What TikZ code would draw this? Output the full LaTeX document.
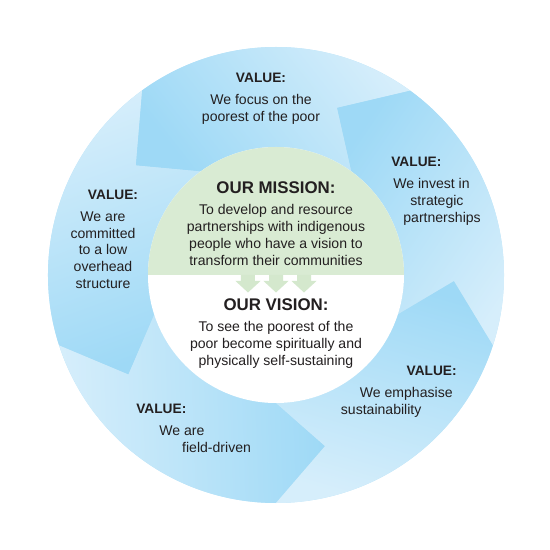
\documentclass[tikz,border=0pt]{standalone}
\usepackage{fontspec}
\setmainfont{Liberation Sans}
\usepackage{tikz}
\usetikzlibrary{calc, positioning}

\definecolor{RingDark}{RGB}{158,217,246}
\definecolor{RingLight}{RGB}{214,238,251}
\definecolor{RingMid}{RGB}{185,227,248}
\definecolor{MissionGreen}{RGB}{217,235,211}
\definecolor{ArrowGreen}{RGB}{212,232,205}
\definecolor{InkGrey}{RGB}{35,31,32}

\newcommand{\rOut}{4.56}
\newcommand{\rIn}{2.56}
\newcommand{\rMid}{3.56}

\begin{document}
\begin{tikzpicture}[font=\fontsize{8}{9.6}\selectfont, text=InkGrey,
	valhead/.style={font=\fontsize{7.8}{9}\selectfont\bfseries, inner sep=0pt},
	valtext/.style={align=center, inner sep=0pt},
	heading/.style={font=\fontsize{9.6}{11}\selectfont\bfseries, inner sep=0pt}]
	\useasboundingbox (-5.52,-5.5) rectangle (5.48,5.5);

	% ring of five arrows
	\fill[RingMid] (0,0) circle (\rOut);
	\foreach \b in {54,126,198,270,342}{
		\pgfmathsetmacro{\tl}{\b-72}
		\pgfmathsetmacro{\sa}{\b+2}
		\shade[top color=RingDark, bottom color=RingLight, shading angle=\sa]
			(\tl:\rOut) -- ({\tl+16}:\rMid) -- (\tl:\rIn)
			arc[start angle=\tl, end angle=\b, radius=\rIn]
			-- ({\b+16}:\rMid) -- (\b:\rOut)
			arc[start angle=\b, end angle=\tl, radius=\rOut] -- cycle;
	}

	\fill[white] (0,0) circle (\rIn);
	\fill[MissionGreen] (\rIn,0) arc[start angle=0, end angle=180, radius=\rIn] -- cycle;
	\foreach \x in {-0.56,0,0.56}
		\fill[ArrowGreen] (\x-0.14,0) -- (\x-0.14,-0.12) -- (\x-0.25,-0.12) -- (\x,-0.35)
			-- (\x+0.25,-0.12) -- (\x+0.14,-0.12) -- (\x+0.14,0) -- cycle;

	\node[heading] (mission) at (0,1.74) {OUR MISSION:};
	\node[valtext, below=2mm of mission] (missiontext) {To develop and resource\\partnerships with indigenous\\people who have a vision to\\transform their communities};
	\node[heading] (vision) at (0,-0.60) {OUR VISION:};
	\node[valtext, below=2mm of vision] (visiontext) {To see the poorest of the\\poor become spiritually and\\physically self-sustaining};

	\node[valhead] (v1) at (-0.30,3.94) {VALUE:};
	\node[valtext, below=2.2mm of v1] (t1) {We focus on the\\poorest of the poor};
	\node[valhead, anchor=west] (v2) at (2.30,2.26) {VALUE:};
	\node[valtext, align=left, below=2.2mm of v2.south west, anchor=north west, xshift=0.4mm] (t2) {We invest in\\\hspace*{9.7pt}strategic\\\hspace*{5.7pt}partnerships};
	\node[valhead] (v3) at (-3.26,1.60) {VALUE:};
	\node[valtext, below=2.2mm of v3, xshift=-2mm] (t3) {We are\\committed\\to a low\\overhead\\structure};
	\node[valhead, anchor=west] (v4) at (-2.80,-2.68) {VALUE:};
	\node[valtext, align=left, below=2.2mm of v4.south west, anchor=north west, xshift=4.6mm] (t4) {We are\\\hspace*{13pt}field-driven};
	\node[valhead, anchor=east] (v5) at (3.62,-1.92) {VALUE:};
	\node[valtext, align=left, below=2.2mm of v5.south east, anchor=north east, xshift=-0.8mm] (t5) {\hspace*{10.8pt}We emphasise\\sustainability};
\end{tikzpicture}
\end{document}
